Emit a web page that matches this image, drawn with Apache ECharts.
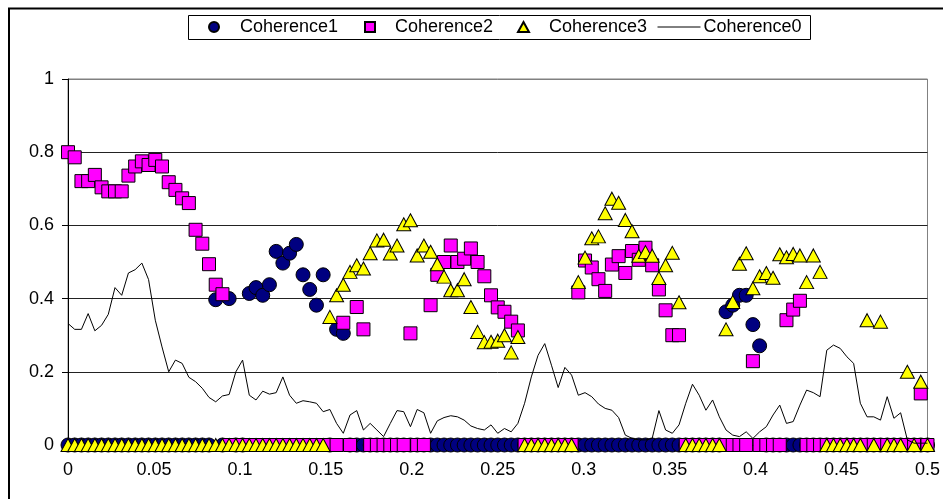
<!DOCTYPE html>
<html>
<head>
<meta charset="utf-8">
<script src="https://cdn.jsdelivr.net/npm/echarts@6/dist/echarts.min.js"></script>
<style>
html,body{margin:0;padding:0;background:#fff;}
#chart{width:943px;height:499px;}
</style>
</head>
<body>
<div id="chart"></div>
<script>
// Frequency bins: sample index i corresponds to i/256 (0 ... 0.5)
const BIN_WIDTH = 1 / 256;

const seriesNames = ['Coherence1', 'Coherence2', 'Coherence3', 'Coherence0'];

const xTicks = [0, 0.05, 0.1, 0.15, 0.2, 0.25, 0.3, 0.35, 0.4, 0.45, 0.5];
const yTicks = [0, 0.2, 0.4, 0.6, 0.8, 1];

const coherence1 = [
  0,0,0,0,0,0,0,0,0,0,0,0,0,0,0,0,
  0,0,0,0,0,0,0.397,0,0.40,0,0,0.414,0.43,0.409,0.438,0.529,
  0.497,0.524,0.548,0.465,0.425,0.382,0.465,0,0.316,0.305,0,0,0,0,0,0,
  0,0,0,0,0,0,0,0,0,0,0,0,0,0,0,0,
  0,0,0,0,0,0,0,0,0,0,0,0,0,0,0,0,
  0,0,0,0,0,0,0,0,0,0,0,0,0,0,0,0,
  0,0,0.364,0.382,0.409,0.409,0.329,0.271,0,0,0,0,0,0,0,0,
  0,0,0,0,0,0,0,0,0,0,0,0,0,0,0,0,
  0
];

const coherence2 = [
  0.80,0.786,0.721,0.721,0.738,0.704,0.693,0.693,0.693,0.736,0.761,0.775,0.765,0.779,0.761,0.718,
  0.697,0.674,0.661,0.588,0.55,0.494,0.438,0.412,0,0,0,0,0,0,0,0,
  0,0,0,0,0,0,0,0,0,0.334,0,0.377,0.316,0,0,0,
  0,0,0,0.305,0,0,0.382,0.465,0.50,0.545,0.50,0.509,0.537,0.50,0.461,0.409,
  0.376,0.364,0.337,0.313,0,0,0,0,0,0,0,0,0.417,0.504,0.485,0.453,
  0.421,0.493,0.516,0.47,0.53,0.506,0.539,0.491,0.425,0.368,0.30,0.30,0,0,0,0,
  0,0,0,0,0,0,0.229,0,0,0,0,0.341,0.37,0.394,0,0,
  0,0,0,0,0,0,0,0,0,0,0,0,0,0,0,0.141,
  0
];

const coherence3 = [
  0,0,0,0,0,0,0,0,0,0,0,0,0,0,0,0,
  0,0,0,0,0,0,0,0,0,0,0,0,0,0,0,0,
  0,0,0,0,0,0,0,0.35,0.409,0.438,0.473,0.491,0.482,0.524,0.559,0.561,
  0.523,0.545,0.603,0.614,0.518,0.545,0.528,0.494,0.46,0.423,0.423,0.453,0.377,0.309,0.281,0.282,
  0.285,0.30,0.253,0.295,0,0,0,0,0,0,0,0,0.445,0.512,0.565,0.570,
  0.633,0.673,0.662,0.615,0.584,0.517,0.527,0.517,0.456,0.491,0.525,0.39,0,0,0,0,
  0,0,0.316,0.391,0.495,0.524,0.428,0.461,0.47,0.457,0.521,0.513,0.522,0.518,0.445,0.518,
  0.473,0,0,0,0,0,0,0.341,0,0.337,0,0,0,0.20,0,0.173,
  0
];

const coherence0 = [
  0.332,0.316,0.316,0.359,0.312,0.327,0.357,0.43,0.409,0.47,0.479,0.497,0.452,0.341,0.268,0.20,
  0.232,0.223,0.185,0.173,0.155,0.13,0.118,0.134,0.138,0.20,0.232,0.136,0.123,0.147,0.139,0.143,
  0.186,0.136,0.114,0.121,0.118,0.114,0.091,0.097,0.059,0.032,0.082,0.094,0.041,0.059,0.041,0.023,
  0.059,0.094,0.091,0.05,0.097,0.088,0.032,0.066,0.075,0.08,0.077,0.068,0.052,0.045,0.041,0.055,
  0.032,0.045,0.036,0.059,0.114,0.186,0.245,0.277,0.218,0.157,0.212,0.191,0.136,0.143,0.132,0.112,
  0.10,0.095,0.075,0.027,0.018,0.014,0.014,0.018,0.094,0.041,0.032,0.055,0.114,0.166,0.136,0.095,
  0.123,0.077,0.041,0.027,0.023,0.036,0.018,0.036,0.05,0.082,0.109,0.059,0.064,0.109,0.15,0.143,
  0.132,0.259,0.273,0.264,0.241,0.223,0.114,0.077,0.077,0.068,0.132,0.073,0.088,0.014,0.005,0.005,
  0.005
];

function pairs(values) {
  return values.map((v, i) => [i * BIN_WIDTH, v]);
}

const FONT = "'Liberation Sans', Arial, sans-serif";
const chart = echarts.init(document.getElementById('chart'), null, {renderer: 'canvas'});

function legendItem(name, icon, left, itemWidth, itemHeight, padLeft, extra) {
  const dataItem = {name: name};
  if (icon) dataItem.icon = icon;
  return Object.assign({
    show: true,
    data: [dataItem],
    left: left,
    top: 18,
    padding: 0,
    itemWidth: itemWidth,
    itemHeight: itemHeight,
    selectedMode: false,
    textStyle: {fontFamily: FONT, fontSize: 18, color: '#000', lineHeight: 18, padding: [0, 0, 0, padLeft]}
  }, extra || {});
}

const option = {
  animation: false,
  backgroundColor: '#fff',
  textStyle: {fontFamily: FONT},
  graphic: [
    {type: 'rect', shape: {x: 9, y: 8.5, width: 1000, height: 600}, style: {fill: 'none', stroke: '#000', lineWidth: 2}, silent: true, z: 100},
    {type: 'rect', shape: {x: 188.5, y: 15.5, width: 622, height: 24}, style: {fill: 'none', stroke: '#000', lineWidth: 1}, silent: true, z: 100}
  ],
  legend: [
    legendItem(seriesNames[0], 'circle', 208, 10, 10, 16),
    legendItem(seriesNames[1], 'rect', 364, 10, 10, 15),
    legendItem(seriesNames[2], 'triangle', 517, 11, 10, 15),
    legendItem(seriesNames[3], null, 657, 43, 10, -2, {
      itemStyle: {opacity: 0, borderWidth: 0},
      lineStyle: {color: '#000', width: 1}
    })
  ],
  grid: {
    left: 68, right: 10, top: 79, bottom: 54,
    show: true, borderColor: '#808080', borderWidth: 1, backgroundColor: 'transparent'
  },
  xAxis: {
    type: 'value',
    min: xTicks[0], max: xTicks[xTicks.length - 1], interval: 0.05,
    axisLine: {show: true, onZero: false, lineStyle: {color: '#000', width: 1}},
    axisTick: {show: true, inside: false, length: 5, lineStyle: {color: '#000'}},
    splitLine: {show: false},
    axisLabel: {
      color: '#000', fontSize: 18, fontFamily: FONT, margin: 16,
      formatter: v => String(+v.toFixed(2))
    }
  },
  yAxis: {
    type: 'value',
    min: yTicks[0], max: yTicks[yTicks.length - 1], interval: 0.2,
    axisLine: {show: true, lineStyle: {color: '#000', width: 1}},
    axisTick: {show: true, inside: false, length: 6, lineStyle: {color: '#000'}},
    splitLine: {show: true, lineStyle: {color: ['#222', '#222', '#222', '#222', '#222', '#808080'], width: 1}},
    axisLabel: {
      color: '#000', fontSize: 18, fontFamily: FONT, margin: 14,
      formatter: v => String(+v.toFixed(2))
    }
  },
  series: [
    {
      name: seriesNames[0], type: 'scatter', data: pairs(coherence1),
      symbol: 'circle', symbolSize: 14, clip: false,
      itemStyle: {color: '#000080', borderColor: '#000', borderWidth: 1, opacity: 1},
      emphasis: {disabled: true}
    },
    {
      name: seriesNames[1], type: 'scatter', data: pairs(coherence2),
      symbol: 'rect', symbolSize: 13, clip: false,
      itemStyle: {color: '#FF00FF', borderColor: '#000', borderWidth: 1, opacity: 1},
      emphasis: {disabled: true}
    },
    {
      name: seriesNames[2], type: 'scatter', data: pairs(coherence3),
      symbol: 'triangle', symbolSize: [14, 13], clip: false,
      itemStyle: {color: '#FFFF00', borderColor: '#000', borderWidth: 1, opacity: 1},
      emphasis: {disabled: true}
    },
    {
      name: seriesNames[3], type: 'line', data: pairs(coherence0),
      symbol: 'none', showSymbol: false, clip: false,
      lineStyle: {color: '#000', width: 1},
      itemStyle: {color: '#000'},
      emphasis: {disabled: true}
    }
  ]
};
chart.setOption(option);
</script>
</body>
</html>
